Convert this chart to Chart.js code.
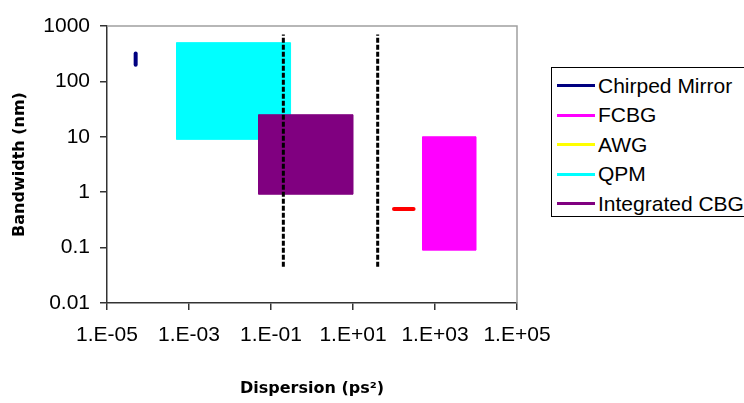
<!DOCTYPE html>
<html>
<head>
<meta charset="utf-8">
<script src="https://cdn.jsdelivr.net/npm/chart.js@4/dist/chart.umd.min.js"></script>
<style>
  html, body { margin: 0; padding: 0; background: #fff; overflow: hidden; }
  #wrap { position: relative; width: 744px; height: 403px; }
  #legend {
    position: absolute; left: 551px; top: 67px; width: 200px; height: 150px;
    border: 1px solid #000; box-sizing: border-box; background: #fff;
    font-family: "Liberation Sans", Arial, sans-serif; font-size: 21px; color: #000;
    padding-top: 3px;
  }
  #legend .row { display: flex; align-items: center; height: 29.5px; white-space: nowrap; }
  #legend .swatch { width: 38px; height: 3px; margin-left: 5px; margin-right: 3px; }
</style>
</head>
<body>
<div id="wrap">
  <canvas id="chart" width="744" height="403"></canvas>
  <div id="legend"></div>
</div>
<script>
// axis ticks (log scales)
var xTicks = [1e-5, 1e-3, 1e-1, 1e1, 1e3, 1e5];
var yTicks = [0.01, 0.1, 1, 10, 100, 1000];

// each device: dispersion range (ps^2) and bandwidth range (nm)
var chirpedX = [5e-5, 5e-5];
var chirpedY = [200, 320];
var fcbgX = [500, 10000];
var fcbgY = [0.09, 10];
var awgX = [];
var awgY = [];
var qpmX = [5e-4, 0.3];
var qpmY = [9, 500];
var icbgX = [0.05, 10];
var icbgY = [0.92, 25];

// short red segment and the two dashed limits
var redX = [100, 300];
var redY = [0.5, 0.5];
var limitX = [0.2, 40];
var limitY = [0.045, 700];

var names = ["Chirped Mirror", "FCBG", "AWG", "QPM", "Integrated CBG"];
var colors = ["#000080", "#ff00ff", "#ffff00", "#00ffff", "#800080"];

function box(xs, ys) {
  if (!xs.length) return [];
  return [
    { x: xs[0], y: ys[0] }, { x: xs[1], y: ys[0] },
    { x: xs[1], y: ys[1] }, { x: xs[0], y: ys[1] },
    { x: xs[0], y: ys[0] }
  ];
}
function seg(xs, ys) {
  return xs.map(function (x, i) { return { x: x, y: ys[i] }; });
}

var datasets = [
  { label: names[0], data: seg(chirpedX, chirpedY), borderColor: colors[0], borderWidth: 4,
    borderCapStyle: "round", order: 1 },
  { label: names[1], data: box(fcbgX, fcbgY), borderColor: colors[1], backgroundColor: colors[1],
    borderWidth: 1, fill: "shape", order: 3 },
  { label: names[2], data: box(awgX, awgY), borderColor: colors[2], backgroundColor: colors[2],
    borderWidth: 1, fill: "shape", order: 3 },
  { label: names[3], data: box(qpmX, qpmY), borderColor: colors[3], backgroundColor: colors[3],
    borderWidth: 1, fill: "shape", order: 3 },
  { label: names[4], data: box(icbgX, icbgY), borderColor: colors[4], backgroundColor: colors[4],
    borderWidth: 1, fill: "shape", order: 2 },
  { label: "", data: seg(redX, redY), borderColor: "#ff0000", borderWidth: 4,
    borderCapStyle: "round", order: 1 },
  { label: "", data: seg([limitX[0], limitX[0]], limitY), borderColor: "#000", borderWidth: 3,
    borderDash: [5, 2], order: 0 },
  { label: "", data: seg([limitX[1], limitX[1]], limitY), borderColor: "#000", borderWidth: 3,
    borderDash: [5, 2], order: 0 }
];

// top and right frame of the plot area
var frame = {
  id: "frame",
  beforeDatasetsDraw: function (chart) {
    var a = chart.chartArea, ctx = chart.ctx;
    ctx.save();
    ctx.strokeStyle = "#a0a0a0";
    ctx.lineWidth = 1.5;
    ctx.beginPath();
    ctx.moveTo(a.left, a.top);
    ctx.lineTo(a.right, a.top);
    ctx.lineTo(a.right, a.bottom);
    ctx.stroke();
    ctx.restore();
  }
};

var tickFont = { family: "'Liberation Sans', Arial, sans-serif", size: 21 };
var titleFont = { family: "'DejaVu Sans', Verdana, sans-serif", size: 16, weight: "bold" };

new Chart(document.getElementById("chart"), {
  type: "scatter",
  data: { datasets: datasets },
  options: {
    responsive: false,
    animation: false,
    showLine: true,
    clip: false,
    layout: { padding: { top: 26, right: 227, left: 0, bottom: 0 } },
    elements: { point: { radius: 0, hoverRadius: 0 }, line: { tension: 0 } },
    plugins: { legend: { display: false }, tooltip: { enabled: false } },
    scales: {
      x: {
        type: "logarithmic",
        min: 1e-5,
        max: 1e5,
        afterFit: function (s) { s.height = 100; },
        afterBuildTicks: function (s) { s.ticks = xTicks.map(function (v) { return { value: v }; }); },
        ticks: {
          color: "#000",
          font: tickFont,
          padding: 13,
          maxRotation: 0,
          autoSkip: false,
          callback: function (v) {
            var e = Math.round(Math.log10(v));
            var s = Math.abs(e) < 10 ? "0" + Math.abs(e) : "" + Math.abs(e);
            return "1.E" + (e < 0 ? "-" : "+") + s;
          }
        },
        grid: { drawOnChartArea: false, tickLength: 7, color: "#333", lineWidth: 1.5 },
        border: { color: "#333", width: 1.5 },
        title: { display: true, text: "Dispersion (ps²)", color: "#000", font: titleFont,
          padding: { top: 0, bottom: 5 } }
      },
      y: {
        type: "logarithmic",
        min: 0.01,
        max: 1000,
        afterFit: function (s) { s.width = 107; },
        afterBuildTicks: function (s) { s.ticks = yTicks.map(function (v) { return { value: v }; }); },
        ticks: {
          color: "#000",
          font: tickFont,
          padding: 10,
          autoSkip: false,
          callback: function (v) { return String(v); }
        },
        grid: { drawOnChartArea: false, tickLength: 7, color: "#333", lineWidth: 1.5 },
        border: { color: "#333", width: 1.5 },
        title: { display: true, text: "Bandwidth (nm)", color: "#000", font: titleFont,
          padding: { top: 10, bottom: 0 } }
      }
    }
  },
  plugins: [frame]
});

// legend rows for the five named devices
var legend = document.getElementById("legend");
names.forEach(function (n, i) {
  var row = document.createElement("div");
  row.className = "row";
  var sw = document.createElement("span");
  sw.className = "swatch";
  sw.style.background = colors[i];
  var tx = document.createElement("span");
  tx.textContent = n;
  row.appendChild(sw);
  row.appendChild(tx);
  legend.appendChild(row);
});
</script>
</body>
</html>
